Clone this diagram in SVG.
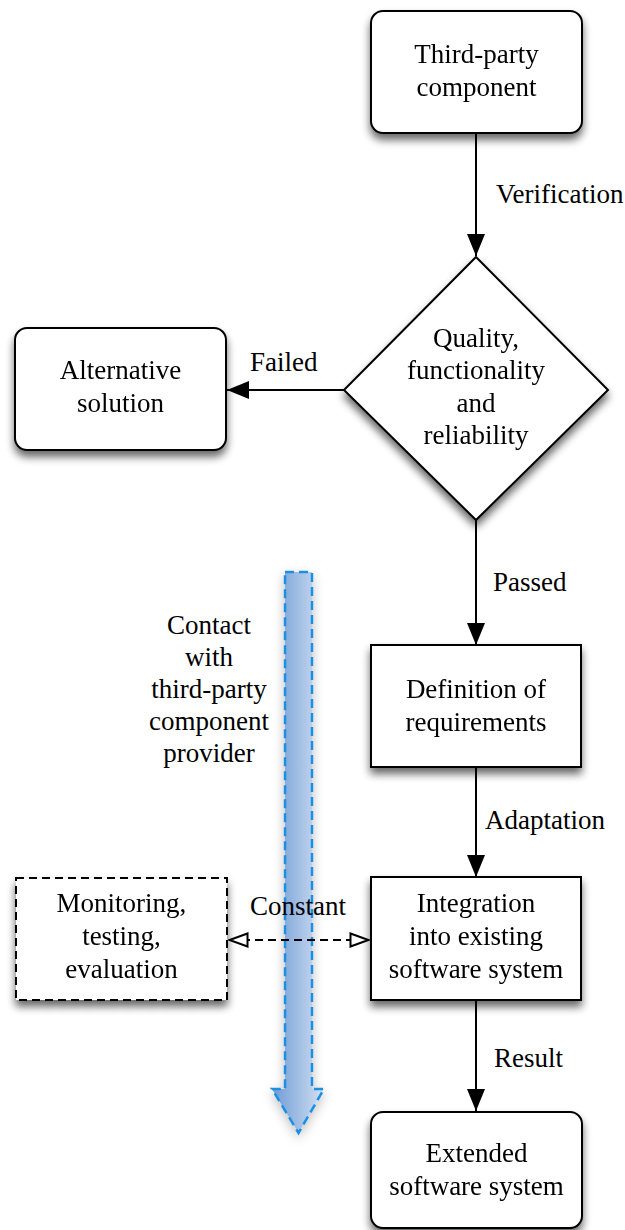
<svg xmlns="http://www.w3.org/2000/svg" width="625" height="1230" viewBox="0 0 625 1230">
  <defs>
    <filter id="shadow" x="-20%" y="-20%" width="140%" height="150%">
      <feGaussianBlur in="SourceAlpha" stdDeviation="4"/>
      <feOffset dx="0" dy="6" result="b"/>
      <feComponentTransfer><feFuncA type="linear" slope="0.6"/></feComponentTransfer>
      <feMerge><feMergeNode/><feMergeNode in="SourceGraphic"/></feMerge>
    </filter>
    <filter id="softShadow" x="-50%" y="-10%" width="200%" height="130%">
      <feGaussianBlur in="SourceAlpha" stdDeviation="6"/>
      <feOffset dx="0" dy="4"/>
      <feComponentTransfer><feFuncA type="linear" slope="0.25"/></feComponentTransfer>
      <feMerge><feMergeNode/><feMergeNode in="SourceGraphic"/></feMerge>
    </filter>
    <linearGradient id="blueFill" x1="0" y1="0" x2="1" y2="0">
      <stop offset="0" stop-color="#6e9bd6"/>
      <stop offset="1" stop-color="#d3e0f2"/>
    </linearGradient>
    <marker id="solidHead" viewBox="0 0 22 18" refX="22" refY="9" markerWidth="22" markerHeight="18" markerUnits="userSpaceOnUse" orient="auto">
      <path d="M0,0 L22,9 L0,18 Z" fill="#000"/>
    </marker>
    <marker id="openHead" viewBox="0 0 21 16" refX="20" refY="8" markerWidth="21" markerHeight="16" markerUnits="userSpaceOnUse" orient="auto-start-reverse">
      <path d="M1.5,1.5 L19.5,8 L1.5,14.5 Z" fill="#fff" stroke="#000" stroke-width="2"/>
    </marker>
  </defs>
  <style>
    .box { fill: #fff; stroke: #000; stroke-width: 2; }
    .dashed { stroke-dasharray: 8 5; }
    .txt { font-family: "Liberation Serif", "Times New Roman", serif; font-size: 27px; fill: #000; text-anchor: middle; }
    .lbl { font-family: "Liberation Serif", "Times New Roman", serif; font-size: 27px; fill: #000; }
    .edge { stroke: #000; stroke-width: 2; fill: none; }
  </style>

  <rect width="625" height="1230" fill="#fff"/>

  <!-- wide blue arrow: contact with the component provider -->
  <g id="contact-arrow">
    <path d="M285,572 L312,572 L312,1089 L324,1089 L298.5,1133 L272,1089 L285,1089 Z" fill="url(#blueFill)" stroke="#1b8fe3" stroke-width="2.5" stroke-dasharray="9 5" filter="url(#softShadow)"/>
  </g>
  <g id="contact-label">
    <text class="txt"><tspan x="209" y="634">Contact</tspan><tspan x="209" y="666">with</tspan><tspan x="209" y="698">third-party</tspan><tspan x="209" y="730">component</tspan><tspan x="209" y="762">provider</tspan></text>
  </g>

  <!-- connectors -->
  <g id="connectors">
    <line class="edge" x1="476" y1="133" x2="476" y2="256" marker-end="url(#solidHead)"/>
    <line class="edge" x1="344" y1="390" x2="227" y2="390" marker-end="url(#solidHead)"/>
    <line class="edge" x1="476" y1="520" x2="476" y2="645" marker-end="url(#solidHead)"/>
    <line class="edge" x1="476" y1="767" x2="476" y2="877" marker-end="url(#solidHead)"/>
    <line class="edge" x1="476" y1="1000" x2="476" y2="1111" marker-end="url(#solidHead)"/>
    <line class="edge dashed" x1="229" y1="940" x2="369" y2="940" marker-start="url(#openHead)" marker-end="url(#openHead)"/>
    <text class="lbl" x="496" y="203">Verification</text>
    <text class="lbl" x="250" y="371">Failed</text>
    <text class="lbl" x="493" y="591">Passed</text>
    <text class="lbl" x="485" y="829">Adaptation</text>
    <text class="lbl" x="494" y="1067">Result</text>
    <text class="lbl" x="250" y="915">Constant</text>
  </g>

  <!-- nodes -->
  <g id="third-party-component" filter="url(#shadow)">
    <rect class="box" x="371" y="11" width="211" height="122" rx="12"/>
    <text class="txt"><tspan x="476.5" y="63">Third-party</tspan><tspan x="476.5" y="96">component</tspan></text>
  </g>

  <g id="quality-check" filter="url(#shadow)">
    <path class="box" d="M476,257 L608,390 L476,520 L344,390 Z"/>
    <text class="txt"><tspan x="476" y="347">Quality,</tspan><tspan x="476" y="379">functionality</tspan><tspan x="476" y="412">and</tspan><tspan x="476" y="444">reliability</tspan></text>
  </g>

  <g id="alternative-solution" filter="url(#shadow)">
    <rect class="box" x="15" y="328" width="211" height="122" rx="12"/>
    <text class="txt"><tspan x="120.5" y="379">Alternative</tspan><tspan x="120.5" y="412">solution</tspan></text>
  </g>

  <g id="definition-of-requirements" filter="url(#shadow)">
    <rect class="box" x="371" y="645" width="210" height="122"/>
    <text class="txt"><tspan x="476" y="698">Definition of</tspan><tspan x="476" y="731">requirements</tspan></text>
  </g>

  <g id="integration" filter="url(#shadow)">
    <rect class="box" x="371" y="877" width="210" height="123"/>
    <text class="txt"><tspan x="476" y="912">Integration</tspan><tspan x="476" y="945">into existing</tspan><tspan x="476" y="978">software system</tspan></text>
  </g>

  <g id="monitoring" filter="url(#shadow)">
    <rect class="box dashed" x="16" y="878" width="211" height="122"/>
    <text class="txt"><tspan x="121.5" y="912">Monitoring,</tspan><tspan x="121.5" y="945">testing,</tspan><tspan x="121.5" y="978">evaluation</tspan></text>
  </g>

  <g id="extended-system" filter="url(#shadow)">
    <rect class="box" x="371" y="1112" width="211" height="116" rx="12"/>
    <text class="txt"><tspan x="476.5" y="1162">Extended</tspan><tspan x="476.5" y="1195">software system</tspan></text>
  </g>
</svg>
